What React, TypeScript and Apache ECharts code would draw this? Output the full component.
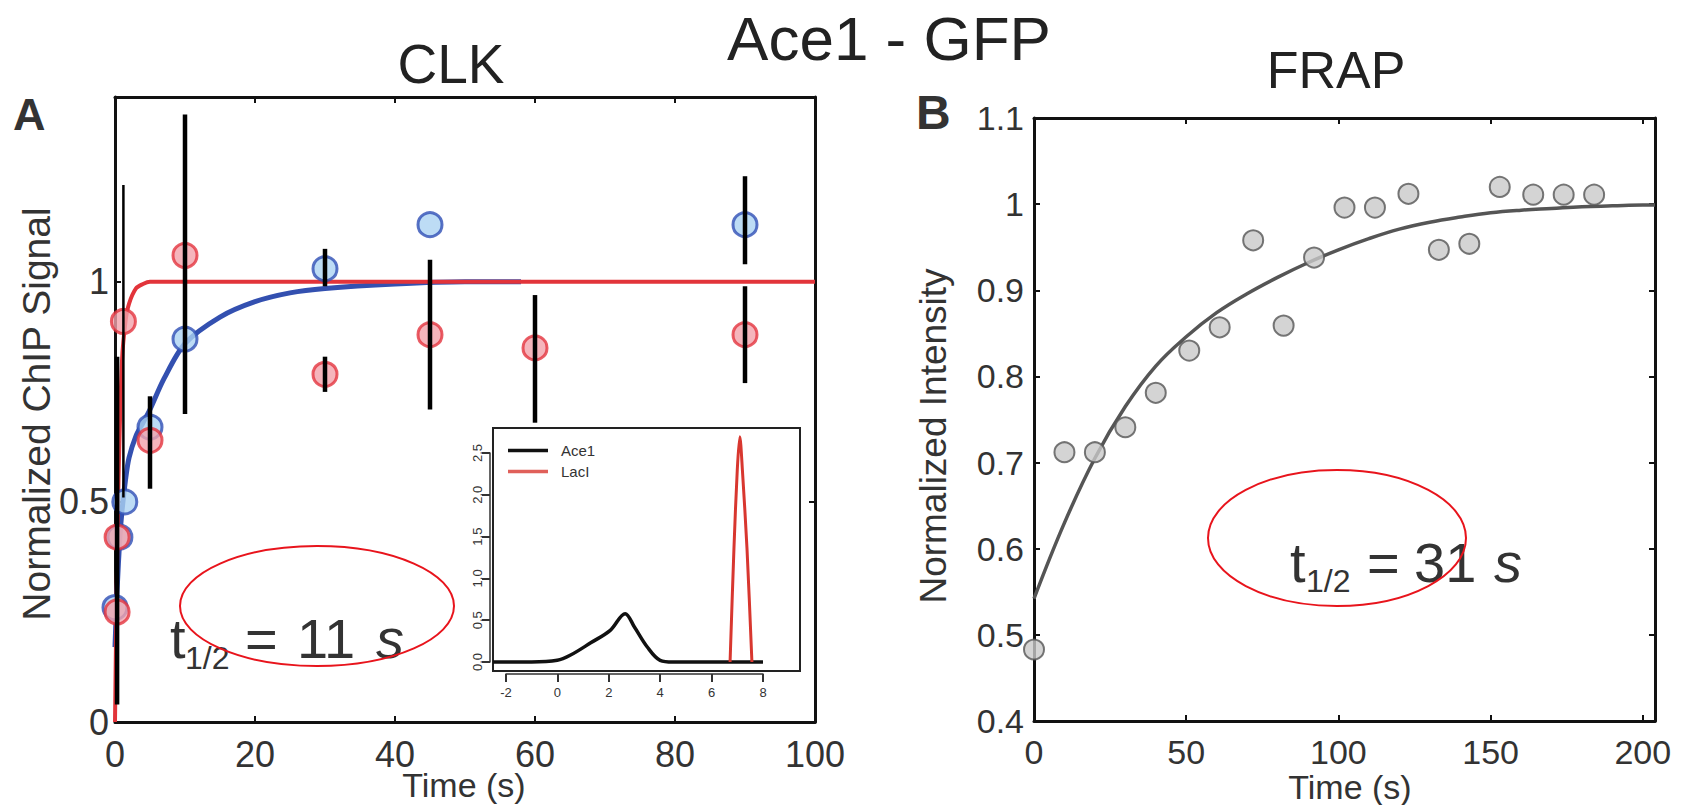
import React, { useEffect, useRef } from "react";
import * as echarts from "echarts";

// ---------- Panel A (CLK) data ----------
const aceT = [0, 0.7, 1.4, 5, 10, 30, 45, 90];
const aceY = [0.26, 0.42, 0.5, 0.67, 0.87, 1.03, 1.13, 1.13];
const lacT = [0.3, 0.3, 1.2, 5, 10, 30, 45, 60, 90];
const lacY = [0.25, 0.42, 0.91, 0.64, 1.06, 0.79, 0.88, 0.85, 0.88];

const aceFitT = [0, 0.3, 0.7, 1, 1.5, 2, 3, 4, 5, 7, 10, 15, 20, 25, 30, 40, 50, 58];
const aceFitY = [0.17, 0.3, 0.42, 0.48, 0.55, 0.6, 0.65, 0.68, 0.71, 0.78, 0.86, 0.92, 0.955, 0.975, 0.985, 0.995, 1.0, 1.0];
const lacFitT = [0, 0.2, 0.5, 1, 1.5, 2, 3, 4, 5, 7, 10, 100];
const lacFitY = [0, 0.25, 0.55, 0.82, 0.91, 0.95, 0.985, 0.995, 1.0, 1.0, 1.0, 1.0];

// error bars: time, low, high
const errT = [0.3, 5, 10, 30, 30, 45, 60, 90, 90];
const errLow = [0.04, 0.53, 0.7, 0.99, 0.75, 0.71, 0.68, 1.04, 0.77];
const errHigh = [0.83, 0.74, 1.38, 1.075, 0.83, 1.05, 0.97, 1.24, 0.99];
const thinErrT = [1.2];
const thinErrLow = [0.51];
const thinErrHigh = [1.22];

// ---------- Inset data ----------
const insetAceX = [-2.5, -1, 0, 0.5, 1.3, 2.06, 2.64, 3.0, 3.5, 4.0, 4.5, 6, 8];
const insetAceY = [0, 0, 0.02, 0.08, 0.23, 0.38, 0.58, 0.42, 0.18, 0.02, 0, 0, 0];
const insetLacX = [6.72, 6.87, 7.0, 7.1, 7.2, 7.38, 7.57];
const insetLacY = [0, 1.35, 2.3, 2.7, 2.3, 1.35, 0];

// ---------- Panel B (FRAP) data ----------
const frapT = [0, 10, 20, 30, 40, 51, 61, 72, 82, 92, 102, 112, 123, 133, 143, 153, 164, 174, 184];
const frapY = [0.483, 0.712, 0.712, 0.741, 0.781, 0.83, 0.857, 0.958, 0.859, 0.938, 0.996, 0.996, 1.012, 0.947, 0.954, 1.02, 1.011, 1.011, 1.011];
const frapFitT = [0, 10, 20, 30, 40, 50, 60, 70, 80, 90, 100, 110, 120, 130, 140, 150, 160, 170, 180, 190, 200, 204];
const frapFitY = [0.542, 0.63, 0.705, 0.765, 0.812, 0.846, 0.874, 0.896, 0.915, 0.932, 0.947, 0.96, 0.971, 0.979, 0.985, 0.99, 0.993, 0.995, 0.997, 0.998, 0.999, 0.999];

// tick labels
const xTicksA = [0, 20, 40, 60, 80, 100];
const yTicksA = [0, 0.5, 1];
const xTicksB = [0, 50, 100, 150, 200];

const FONT = "'Liberation Sans', Arial, Helvetica, sans-serif";
const TXT = "#333";

const zip = (a: number[], b: number[]) => a.map((v, i) => [v, b[i]]);
const zip3 = (a: number[], b: number[], c: number[]) => a.map((v, i) => [v, b[i], c[i]]);

function errorRender(width: number) {
  return (params: any, api: any) => {
    const x = api.value(0);
    const p1 = api.coord([x, api.value(1)]);
    const p2 = api.coord([x, api.value(2)]);
    return {
      type: "line",
      shape: { x1: p1[0], y1: p1[1], x2: p2[0], y2: p2[1] },
      style: { stroke: "#000", lineWidth: width },
    };
  };
}

const axisLineStyle = { color: "#111", width: 3 };
const tickIn = { show: true, inside: true, length: 6, lineStyle: { color: "#111", width: 2 } };

export default function App() {
  const ref = useRef<HTMLDivElement>(null);
  useEffect(() => {
    document.body.style.margin = "0";
    const chart = echarts.init(ref.current!, null, { renderer: "svg" });
    const option: any = {
      animation: false,
      backgroundColor: "#fff",
      textStyle: { fontFamily: FONT },
      legend: {
        data: ["Ace1", "LacI"],
        left: 503,
        top: 438,
        orient: "vertical",
        icon: "rect",
        itemWidth: 40,
        itemHeight: 3.5,
        itemGap: 6,
        textStyle: { fontSize: 15, color: TXT, fontFamily: FONT, padding: [0, 0, 0, 8] },
      },
      grid: [
        { left: 115, top: 97, width: 700, height: 625 },
        { left: 1034, top: 118, width: 621, height: 603 },
        { left: 493, top: 428, width: 307, height: 243, show: true, borderColor: "#222", borderWidth: 2, backgroundColor: "#fff", z: 3 },
        { left: 506, top: 453, width: 257, height: 209 },
      ],
      xAxis: [
        {
          gridIndex: 0, type: "value", min: 0, max: 100, interval: 20,
          axisLine: { show: true, onZero: false, lineStyle: axisLineStyle },
          axisTick: tickIn,
          axisLabel: { fontSize: 36, color: TXT, margin: 14, formatter: (v: number) => (xTicksA.includes(v) ? String(v) : "") },
          splitLine: { show: false },
        },
        {
          gridIndex: 0, type: "value", position: "top", min: 0, max: 100, interval: 20,
          axisLine: { show: true, onZero: false, lineStyle: axisLineStyle },
          axisTick: tickIn, axisLabel: { show: false }, splitLine: { show: false },
        },
        {
          gridIndex: 1, type: "value", min: 0, max: 204, interval: 50,
          axisLine: { show: true, onZero: false, lineStyle: axisLineStyle },
          axisTick: tickIn,
          axisLabel: { fontSize: 34, color: TXT, margin: 14, formatter: (v: number) => (xTicksB.includes(v) ? String(v) : "") },
          splitLine: { show: false },
        },
        {
          gridIndex: 1, type: "value", position: "top", min: 0, max: 204, interval: 50,
          axisLine: { show: true, onZero: false, lineStyle: axisLineStyle },
          axisTick: tickIn, axisLabel: { show: false }, splitLine: { show: false },
        },
        {
          gridIndex: 2, type: "value", min: -2.5, max: 9.44, show: false, splitLine: { show: false },
        },
        {
          gridIndex: 3, type: "value", min: -2, max: 8, interval: 2, offset: 12,
          axisLine: { show: true, onZero: false, lineStyle: { color: "#333", width: 1.5 } },
          axisTick: { show: true, inside: false, length: 8, lineStyle: { color: "#333", width: 2 } },
          axisLabel: { fontSize: 13, color: TXT, margin: 12 },
          splitLine: { show: false },
        },
      ],
      yAxis: [
        {
          gridIndex: 0, type: "value", min: 0, max: 1.42, interval: 0.5,
          axisLine: { show: true, onZero: false, lineStyle: axisLineStyle },
          axisTick: tickIn,
          axisLabel: { fontSize: 36, color: TXT, margin: 6, formatter: (v: number) => (yTicksA.includes(v) ? String(v) : "") },
          splitLine: { show: false },
        },
        {
          gridIndex: 0, type: "value", position: "right", min: 0, max: 1.42, interval: 0.5,
          axisLine: { show: true, onZero: false, lineStyle: axisLineStyle },
          axisTick: tickIn, axisLabel: { show: false }, splitLine: { show: false },
        },
        {
          gridIndex: 1, type: "value", min: 0.4, max: 1.1, interval: 0.1,
          axisLine: { show: true, onZero: false, lineStyle: axisLineStyle },
          axisTick: tickIn,
          axisLabel: { fontSize: 34, color: TXT, margin: 10 },
          splitLine: { show: false },
        },
        {
          gridIndex: 1, type: "value", position: "right", min: 0.4, max: 1.1, interval: 0.1,
          axisLine: { show: true, onZero: false, lineStyle: axisLineStyle },
          axisTick: tickIn, axisLabel: { show: false }, splitLine: { show: false },
        },
        {
          gridIndex: 2, type: "value", min: -0.108, max: 2.806, show: false, splitLine: { show: false },
        },
        {
          gridIndex: 3, type: "value", min: 0, max: 2.5, interval: 0.5, offset: 16,
          axisLine: { show: true, onZero: false, lineStyle: { color: "#333", width: 1.5 } },
          axisTick: { show: true, inside: false, length: 8, lineStyle: { color: "#333", width: 2 } },
          axisLabel: { fontSize: 13, color: TXT, margin: 6, rotate: 90, formatter: (v: number) => v.toFixed(1) },
          splitLine: { show: false },
        },
      ],
      series: [
        {
          name: "Ace1 fit", type: "line", xAxisIndex: 0, yAxisIndex: 0, data: zip(aceFitT, aceFitY),
          smooth: 0.3, symbol: "none", lineStyle: { color: "#3350b0", width: 5 }, z: 2,
        },
        {
          name: "LacI fit", type: "line", xAxisIndex: 0, yAxisIndex: 0, data: zip(lacFitT, lacFitY),
          smooth: 0.3, symbol: "none", lineStyle: { color: "#e2343a", width: 4 }, z: 3,
        },
        {
          name: "Ace1 CLK", type: "scatter", xAxisIndex: 0, yAxisIndex: 0, data: zip(aceT, aceY), symbolSize: 24,
          itemStyle: { color: "#acd3f2", borderColor: "#2f4fb5", borderWidth: 3 }, z: 4,
        },
        {
          name: "LacI CLK", type: "scatter", xAxisIndex: 0, yAxisIndex: 0, data: zip(lacT, lacY), symbolSize: 24,
          itemStyle: { color: "#f3a3ab", borderColor: "#e3343e", borderWidth: 3 }, z: 5,
        },
        {
          name: "err", type: "custom", xAxisIndex: 0, yAxisIndex: 0, data: zip3(errT, errLow, errHigh),
          renderItem: errorRender(4.5), z: 6, clip: false,
        },
        {
          name: "err thin", type: "custom", xAxisIndex: 0, yAxisIndex: 0, data: zip3(thinErrT, thinErrLow, thinErrHigh),
          renderItem: errorRender(2.5), z: 6, clip: false,
        },
        {
          name: "Ace1", type: "line", xAxisIndex: 4, yAxisIndex: 4, data: zip(insetAceX, insetAceY),
          smooth: 0.35, symbol: "none", lineStyle: { color: "#111", width: 3.5 }, itemStyle: { color: "#111" }, z: 10,
        },
        {
          name: "LacI", type: "line", xAxisIndex: 4, yAxisIndex: 4, data: zip(insetLacX, insetLacY),
          smooth: 0.3, symbol: "none", lineStyle: { color: "#d8372f", width: 3 }, itemStyle: { color: "#e0605a" }, z: 10,
        },
        {
          name: "FRAP fit", type: "line", xAxisIndex: 2, yAxisIndex: 2, data: zip(frapFitT, frapFitY),
          smooth: 0.4, symbol: "none", lineStyle: { color: "#555", width: 3.5 }, z: 2,
        },
        {
          name: "FRAP", type: "scatter", xAxisIndex: 2, yAxisIndex: 2, data: zip(frapT, frapY), symbolSize: 20,
          itemStyle: { color: "#c9c9c9", borderColor: "#555", borderWidth: 2 }, z: 4,
        },
      ],
      graphic: [
        { type: "text", x: 889, y: 38, style: { text: "Ace1 - GFP", font: `62px ${FONT}`, fill: "#222", align: "center", verticalAlign: "middle" } },
        { type: "text", x: 451, y: 64, style: { text: "CLK", font: `55px ${FONT}`, fill: "#222", align: "center", verticalAlign: "middle" } },
        { type: "text", x: 1336, y: 70, style: { text: "FRAP", font: `52px ${FONT}`, fill: "#222", align: "center", verticalAlign: "middle" } },
        { type: "text", x: 13, y: 114, style: { text: "A", font: `bold 45px ${FONT}`, fill: "#333", align: "left", verticalAlign: "middle" } },
        { type: "text", x: 916, y: 112, style: { text: "B", font: `bold 48px ${FONT}`, fill: "#333", align: "left", verticalAlign: "middle" } },
        { type: "text", x: 36, y: 414, rotation: Math.PI / 2, style: { text: "Normalized ChIP Signal", font: `39px ${FONT}`, fill: TXT, align: "center", verticalAlign: "middle" } },
        { type: "text", x: 933, y: 436, rotation: Math.PI / 2, style: { text: "Normalized Intensity", font: `37px ${FONT}`, fill: TXT, align: "center", verticalAlign: "middle" } },
        { type: "text", x: 464, y: 785, style: { text: "Time (s)", font: `34px ${FONT}`, fill: TXT, align: "center", verticalAlign: "middle" } },
        { type: "text", x: 1350, y: 787, style: { text: "Time (s)", font: `34px ${FONT}`, fill: TXT, align: "center", verticalAlign: "middle" } },
        // t1/2 = 11 s
        { type: "text", x: 170, y: 638, style: { text: "t", font: `56px ${FONT}`, fill: TXT, align: "left", verticalAlign: "middle" } },
        { type: "text", x: 185, y: 658, style: { text: "1/2", font: `32px ${FONT}`, fill: TXT, align: "left", verticalAlign: "middle" } },
        { type: "text", x: 245, y: 638, style: { text: "=", font: `56px ${FONT}`, fill: TXT, align: "left", verticalAlign: "middle" } },
        { type: "text", x: 297, y: 638, style: { text: "11", font: `56px ${FONT}`, fill: TXT, align: "left", verticalAlign: "middle" } },
        { type: "text", x: 376, y: 638, style: { text: "s", font: `italic 56px ${FONT}`, fill: TXT, align: "left", verticalAlign: "middle" } },
        // t1/2 = 31 s
        { type: "text", x: 1290, y: 562, style: { text: "t", font: `56px ${FONT}`, fill: TXT, align: "left", verticalAlign: "middle" } },
        { type: "text", x: 1306, y: 581, style: { text: "1/2", font: `32px ${FONT}`, fill: TXT, align: "left", verticalAlign: "middle" } },
        { type: "text", x: 1367, y: 562, style: { text: "=", font: `56px ${FONT}`, fill: TXT, align: "left", verticalAlign: "middle" } },
        { type: "text", x: 1414, y: 562, style: { text: "31", font: `56px ${FONT}`, fill: TXT, align: "left", verticalAlign: "middle" } },
        { type: "text", x: 1494, y: 562, style: { text: "s", font: `italic 56px ${FONT}`, fill: TXT, align: "left", verticalAlign: "middle" } },
        // red annotation ellipses
        { type: "ellipse", shape: { cx: 317, cy: 606, rx: 137, ry: 60 }, style: { fill: "none", stroke: "#e8141c", lineWidth: 2 }, z: 100 },
        { type: "ellipse", shape: { cx: 1337, cy: 538, rx: 129, ry: 68 }, style: { fill: "none", stroke: "#e8141c", lineWidth: 2 }, z: 100 },
      ],
    };
    chart.setOption(option);
    return () => chart.dispose();
  }, []);
  return <div ref={ref} style={{ width: 1686, height: 805 }} />;
}
